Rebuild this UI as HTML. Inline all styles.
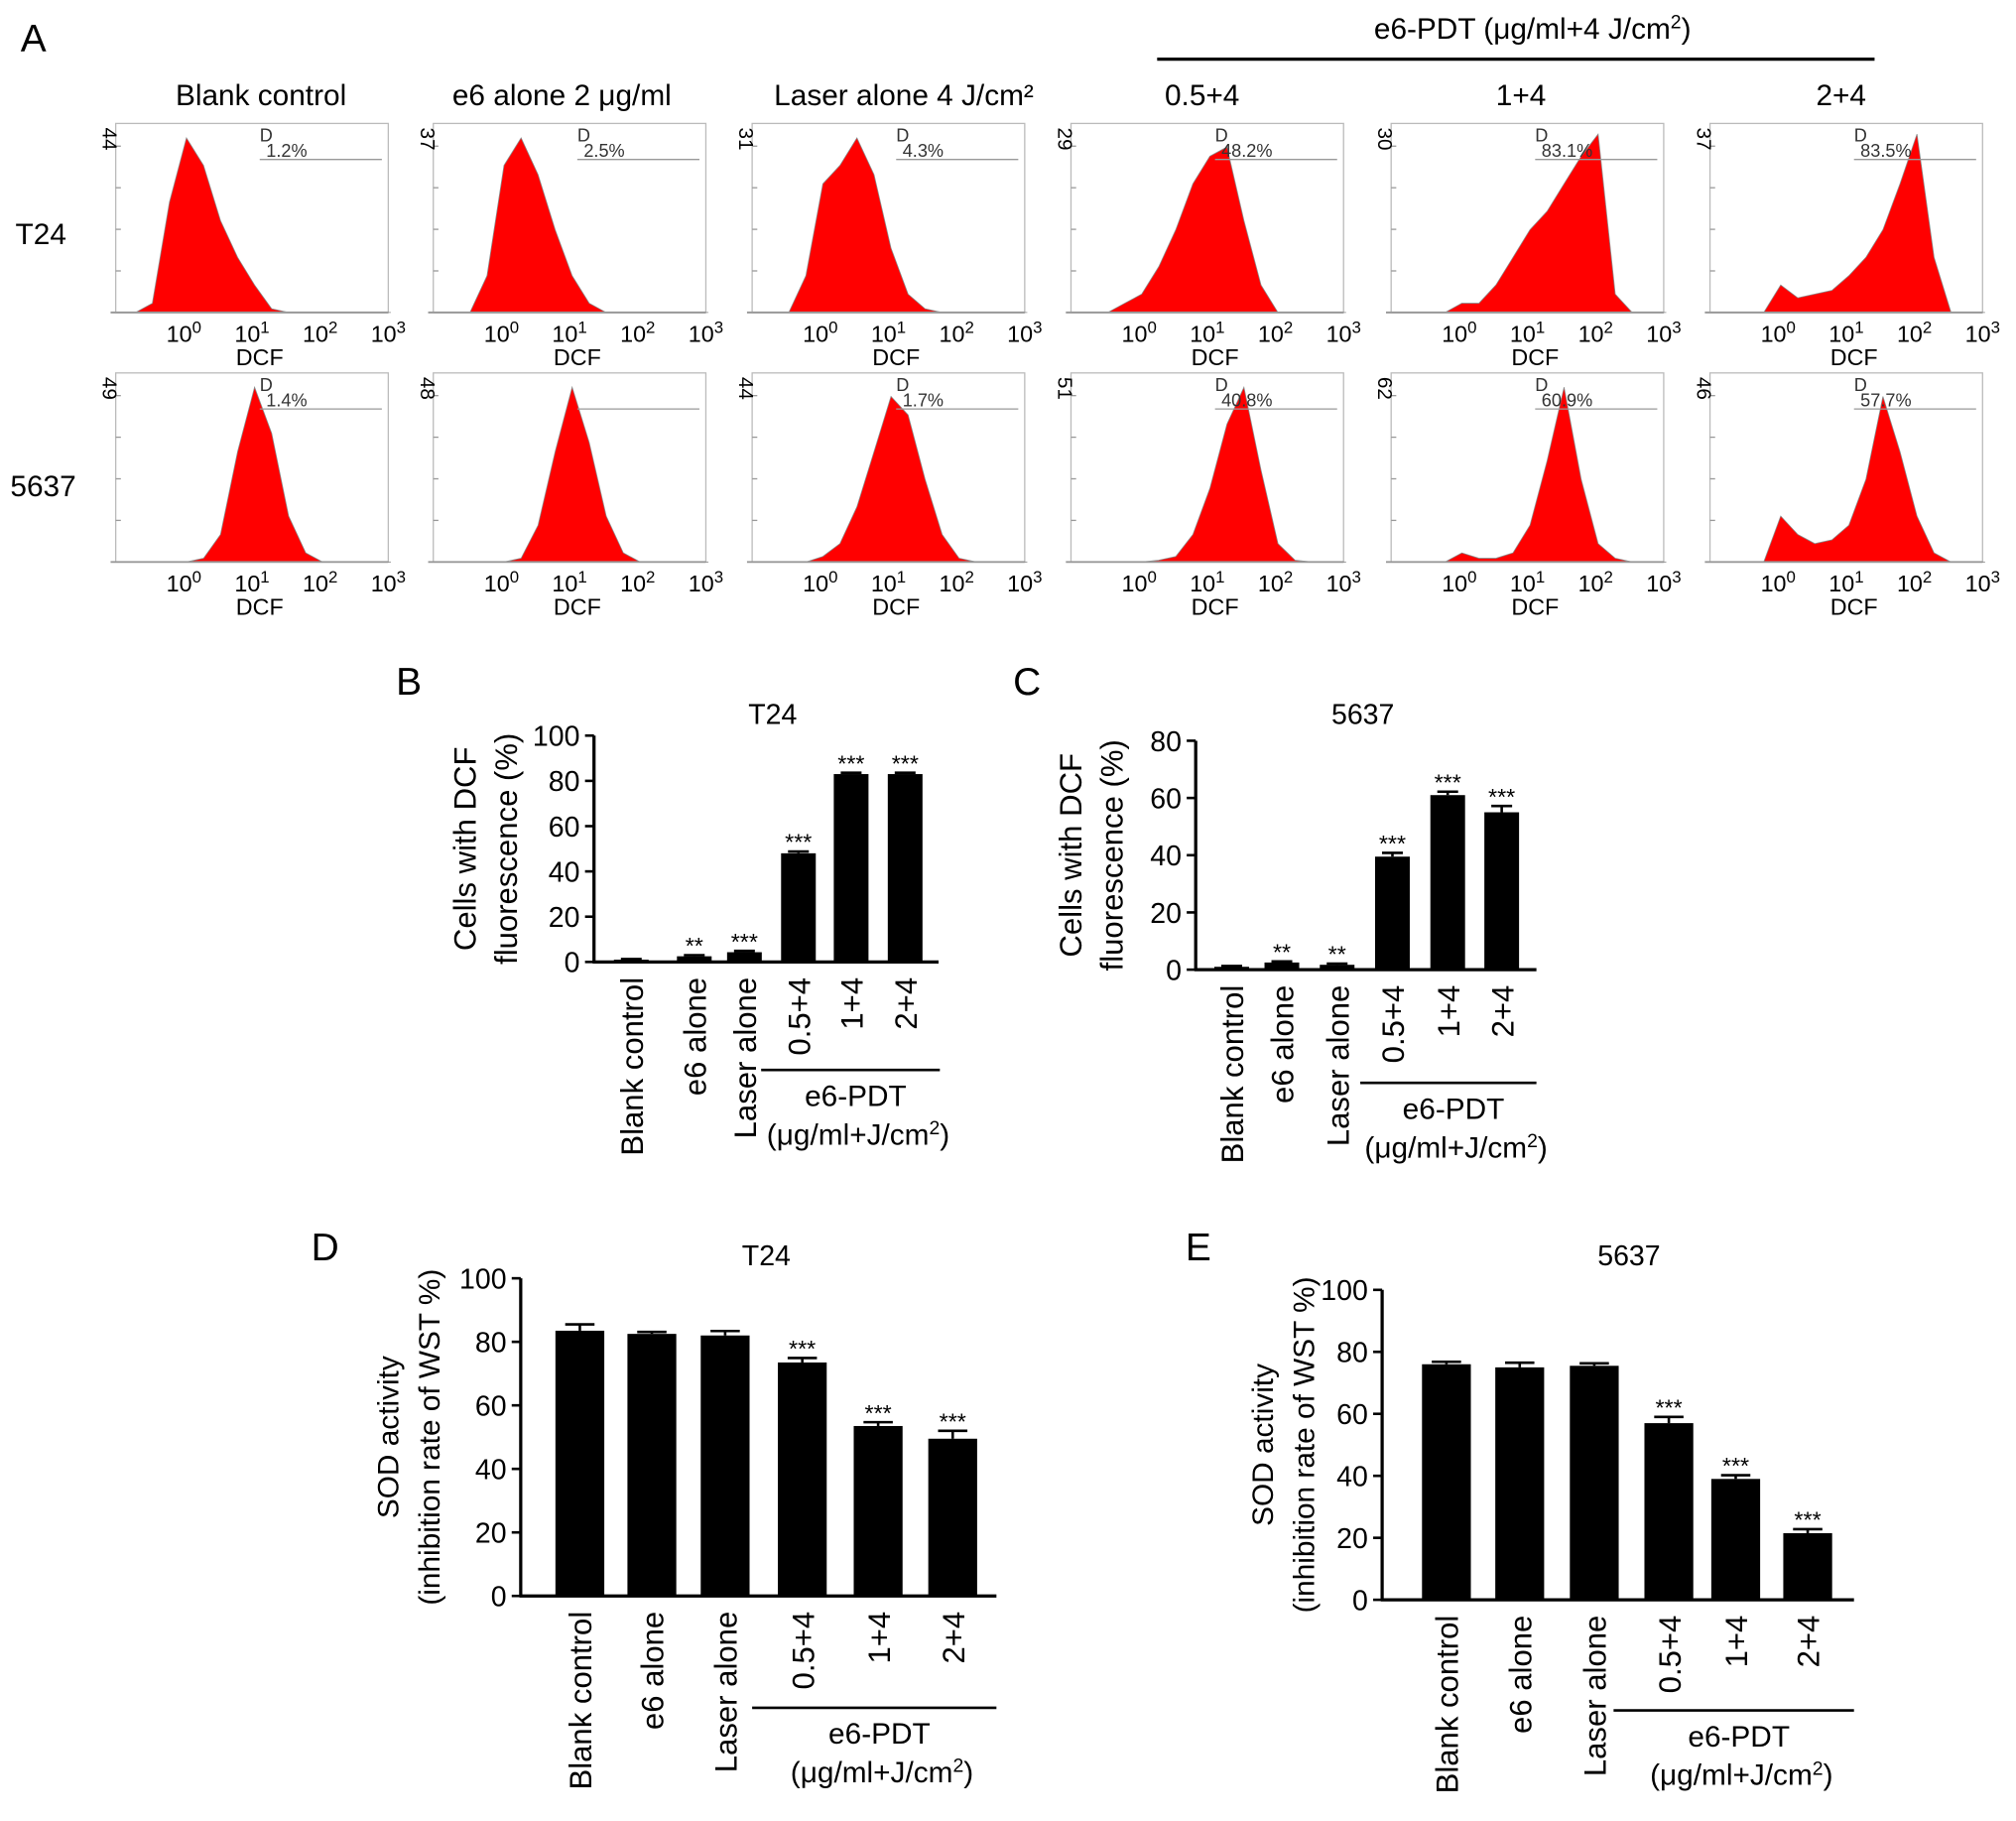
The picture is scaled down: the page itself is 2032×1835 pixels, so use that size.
<!DOCTYPE html>
<html><head><meta charset="utf-8"><style>
html,body{margin:0;padding:0;background:#fff;}
svg{display:block;font-family:"Liberation Sans",Arial,sans-serif;}
</style></head><body>
<svg id="fig" width="2032" height="1835" viewBox="0 0 1568 1416" xmlns="http://www.w3.org/2000/svg">
<rect width="1568" height="1416" fill="#fff"/>
<g id="A"></g>
<g id="charts"></g>
</svg>
<script>
const NS="http://www.w3.org/2000/svg";
// ===== Panel A data =====
const colTitles=["Blank control","e6 alone 2 μg/ml","Laser alone 4 J/cm²","0.5+4","1+4","2+4"];
const rowLabels=["T24","5637"];
const yMaxRow1=["44","37","31","29","30","37"];
const yMaxRow2=["49","48","44","51","62","46"];
const pctRow1=["1.2%","2.5%","4.3%","48.2%","83.1%","83.5%"];
const pctRow2=["1.4%","","1.7%","40.8%","60.9%","57.7%"];
// bins at log10 = -1, -0.75, ..., 3 (fraction of max)
const histRow1=[
[0,0,0.05,0.6,0.95,0.8,0.5,0.3,0.15,0.02,0,0,0,0,0,0,0],
[0,0,0,0.2,0.8,0.95,0.75,0.45,0.2,0.05,0,0,0,0,0,0,0],
[0,0,0,0.2,0.7,0.8,0.95,0.75,0.35,0.1,0.02,0,0,0,0,0,0],
[0,0,0,0.05,0.1,0.25,0.45,0.7,0.85,0.9,0.5,0.15,0,0,0,0,0],
[0,0,0,0,0.05,0.05,0.15,0.3,0.45,0.55,0.7,0.85,0.97,0.1,0,0,0],
[0,0,0,0,0.15,0.08,0.1,0.12,0.2,0.3,0.45,0.7,0.97,0.3,0,0,0]];
const histRow2=[
[0,0,0,0,0,0.02,0.15,0.6,0.95,0.7,0.25,0.05,0,0,0,0,0],
[0,0,0,0,0,0.02,0.2,0.6,0.95,0.65,0.25,0.05,0,0,0,0,0],
[0,0,0,0,0.03,0.1,0.3,0.6,0.9,0.8,0.45,0.15,0.02,0,0,0,0],
[0,0,0,0,0,0.01,0.03,0.15,0.4,0.75,0.95,0.5,0.1,0.01,0,0,0],
[0,0,0,0,0.05,0.02,0.02,0.05,0.2,0.55,0.95,0.45,0.1,0.02,0,0,0],
[0,0,0,0,0.25,0.15,0.1,0.12,0.2,0.45,0.9,0.6,0.25,0.05,0,0,0]];

function el(tag,attrs,parent,text){const e=document.createElementNS(NS,tag);for(const k in attrs)e.setAttribute(k,attrs[k]);if(text!==undefined)e.textContent=text;parent.appendChild(e);return e;}

const A=document.getElementById('A');
let t=el('text',{x:16,y:40,'font-size':30},A,'A');


let ln=el('line',{x1:900,y1:46,x2:1458,y2:46,stroke:'#000','stroke-width':2.5},A);


t=el('text',{x:1192,y:30,'font-size':23,'text-anchor':'middle'},A);


t.innerHTML='e6-PDT (μg/ml+4 J/cm<tspan dy="-8" font-size="15">2</tspan><tspan dy="8">)</tspan>';
const colX=[90,337,585,833,1082,1330];
const titleX=[203,437,703,935,1183,1432];
colTitles.forEach((s,i)=>{
  const tt=el('text',{x:titleX[i],y:82,'font-size':23,'text-anchor':'middle'},A,s);
  
  
});
[["T24",12,190],["5637",8,386]].forEach(r=>{
  const tt=el('text',{x:r[1],y:r[2],'font-size':23},A,r[0]);
  
  
});
const boxW=212,boxH=147,rowY=[96,290];
function lx(x0,v){return x0+55+v*53;}
[histRow1,histRow2].forEach((rows,r)=>{
  const y0=rowY[r], yb=y0+boxH;
  rows.forEach((h,i)=>{
    const x0=colX[i];
    const g=el('g',{},A);
    
    
    el('rect',{x:x0,y:y0,width:boxW,height:boxH,fill:'none',stroke:'#bbb','stroke-width':1},g);
    for(let k=1;k<5;k++) el('line',{x1:x0,x2:x0+4,y1:yb-k*boxH*0.22,y2:yb-k*boxH*0.22,stroke:'#999'},g);
    let pts=[];
    pts.push(lx(x0,-1)+','+yb);
    h.forEach((v,j)=>{const lv=-1+j*0.25;pts.push(lx(x0,lv).toFixed(1)+','+(yb-v*(boxH-4)).toFixed(1));});
    pts.push(lx(x0,3)+','+yb);
    const p=el('polygon',{points:pts.join(' '),fill:'#f00',stroke:'#888','stroke-width':0.6},g);
    
    
    el('line',{x1:x0-4,x2:x0+boxW,y1:yb,y2:yb,stroke:'#999','stroke-width':1.5},g);
    const ym=(r?yMaxRow2:yMaxRow1)[i];
    const ty=el('text',{x:0,y:0,'font-size':16,'text-anchor':'middle',transform:`translate(${x0-10},${y0+12}) rotate(90)`},g,ym);
    
    
    for(let d=0;d<4;d++){
      const tk=el('text',{x:lx(x0,d)-2,y:yb+23,'font-size':18,'text-anchor':'middle'},g);
      
      
      tk.innerHTML='10<tspan dy="-7" font-size="13">'+d+'</tspan>';
    }
    const dc=el('text',{x:x0+112,y:yb+41,'font-size':18,'text-anchor':'middle'},g,'DCF');
    
    
    el('line',{x1:x0+112,x2:x0+207,y1:y0+28,y2:y0+28,stroke:'#999'},g);
    const pc=(r?pctRow2:pctRow1)[i];
    if(!(r===1&&i===1)){
      const dl=el('text',{x:x0+112,y:y0+14,'font-size':14,fill:'#333'},g,'D');
      
      
    }
    const pt=el('text',{x:x0+117,y:y0+26,'font-size':14,fill:'#333'},g,pc);
    
    
  });
});

// ===== Bar charts data =====
const categories=["Blank control","e6 alone","Laser alone","0.5+4","1+4","2+4"];
const valuesB=[1,2.5,4.3,48,83,83];
const errorsB=[0.3,0.5,0.6,0.8,0.6,0.6];
const starsB=["","**","***","***","***","***"];
const ticksB=[0,20,40,60,80,100];
const valuesC=[1,2.5,1.7,39.5,61,55];
const errorsC=[0.3,0.4,0.4,1.3,1.2,2.2];
const starsC=["","**","**","***","***","***"];
const ticksC=[0,20,40,60,80];
const valuesD=[83.5,82.5,82,73.5,53.5,49.5];
const errorsD=[2,0.6,1.4,1.4,1.2,2.5];
const starsD=["","","","***","***","***"];
const ticksD=[0,20,40,60,80,100];
const valuesE=[76,75,75.5,57,39,21.5];
const errorsE=[0.8,1.5,0.8,2,1.2,1.3];
const starsE=["","","","***","***","***"];
const ticksE=[0,20,40,60,80,100];

const C=document.getElementById('charts');
function bar(cfg){
  const g=el('g',{},C);
  
  
  const ymax=cfg.ticks[cfg.ticks.length-1];
  const Y=v=>cfg.y0-(v/ymax)*(cfg.y0-cfg.yTop);
  let t=el('text',{x:cfg.lx,y:cfg.ly,'font-size':30},g,cfg.letter);
  
  
  t=el('text',{x:cfg.tx,y:cfg.ty,'font-size':22,'text-anchor':'middle'},g,cfg.title);
  
  
  el('line',{x1:cfg.x0,x2:cfg.x0,y1:cfg.yTop,y2:cfg.y0+1,stroke:'#000','stroke-width':2.5},g);
  el('line',{x1:cfg.x0-1,x2:cfg.xEnd,y1:cfg.y0,y2:cfg.y0,stroke:'#000','stroke-width':2.5},g);
  cfg.ticks.forEach(v=>{
    el('line',{x1:cfg.x0-7,x2:cfg.x0,y1:Y(v),y2:Y(v),stroke:'#000','stroke-width':2},g);
    const tk=el('text',{x:cfg.x0-11,y:Y(v)+8,'font-size':22,'text-anchor':'end'},g,String(v));
    
    
  });
  const yc=(cfg.y0+cfg.yTop)/2;
  cfg.yt.forEach((s,k)=>{
    const a=el('text',{x:0,y:0,'font-size':cfg.ytf,'text-anchor':'middle',transform:`translate(${cfg.ytx[k]},${yc}) rotate(-90)`},g,s);
    
    
  });
  cfg.vals.forEach((v,i)=>{
    const cx=cfg.cx[i];
    const r=el('rect',{x:cx-cfg.bw/2,y:Y(v),width:cfg.bw,height:cfg.y0-Y(v),fill:'#000'},g);
    
    
    const e=cfg.errs[i];
    el('line',{x1:cx,x2:cx,y1:Y(v+e),y2:Y(v),stroke:'#000','stroke-width':2},g);
    el('line',{x1:cx-cfg.bw*0.3,x2:cx+cfg.bw*0.3,y1:Y(v+e),y2:Y(v+e),stroke:'#000','stroke-width':2},g);
    if(cfg.stars[i]){
      const s=el('text',{x:cx,y:Y(v+e)-1,'font-size':18,'text-anchor':'middle'},g,cfg.stars[i]);
      
      
    }
    const c=el('text',{x:0,y:0,'font-size':24,'text-anchor':'end',transform:`translate(${cx+9},${cfg.y0+12}) rotate(-90)`},g,categories[i]);
    
    
  });
  el('line',{x1:cfg.lnx[0],x2:cfg.lnx[1],y1:cfg.lny,y2:cfg.lny,stroke:'#000','stroke-width':2},g);
  const mid=(cfg.lnx[0]+cfg.lnx[1])/2+4;
  t=el('text',{x:mid,y:cfg.lny+28,'font-size':23,'text-anchor':'middle'},g,'e6-PDT');
  
  
  t=el('text',{x:mid+2,y:cfg.lny+58,'font-size':23,'text-anchor':'middle'},g);
  
  
  t.innerHTML='(μg/ml+J/cm<tspan dy="-8" font-size="15">2</tspan><tspan dy="8">)</tspan>';
}
bar({name:'chart-b',letter:'B',lx:308,ly:540,title:'T24',tx:601,ty:563,x0:462,xEnd:730,y0:748,yTop:572,ticks:ticksB,vals:valuesB,errs:errorsB,stars:starsB,cx:[491,540,579,621,662,704],bw:27,ytf:24,yt:['Cells with DCF','fluorescence (%)'],ytx:[370,402],lnx:[592,731],lny:832});
bar({name:'chart-c',letter:'C',lx:788,ly:540,title:'5637',tx:1060,ty:563,x0:930,xEnd:1195,y0:754,yTop:576,ticks:ticksC,vals:valuesC,errs:errorsC,stars:starsC,cx:[958,997,1040,1083,1126,1168],bw:27,ytf:24,yt:['Cells with DCF','fluorescence (%)'],ytx:[841,873],lnx:[1058,1195],lny:842});
bar({name:'chart-d',letter:'D',lx:242,ly:980,title:'T24',tx:596,ty:984,x0:405,xEnd:775,y0:1241,yTop:994,ticks:ticksD,vals:valuesD,errs:errorsD,stars:starsD,cx:[451,507,564,624,683,741],bw:38,ytf:23,yt:['SOD activity','(inhibition rate of WST %)'],ytx:[310,342],lnx:[585,775],lny:1328});
bar({name:'chart-e',letter:'E',lx:922,ly:980,title:'5637',tx:1267,ty:984,x0:1075,xEnd:1442,y0:1244,yTop:1003,ticks:ticksE,vals:valuesE,errs:errorsE,stars:starsE,cx:[1125,1182,1240,1298,1350,1406],bw:38,ytf:23,yt:['SOD activity','(inhibition rate of WST %)'],ytx:[990,1022],lnx:[1255,1442],lny:1330});
</script>
</body></html>
